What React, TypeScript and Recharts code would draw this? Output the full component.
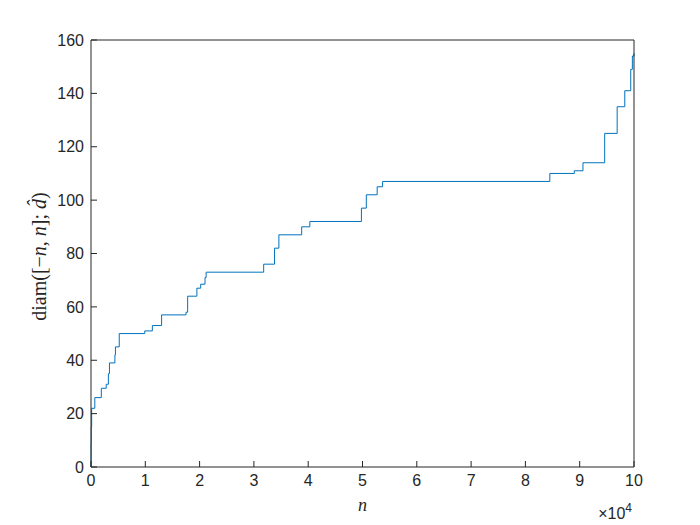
import React from "react";
import { LineChart, Line, XAxis, YAxis } from "recharts";

// step positions (n) and the diameter reached from that n on
const nValues = [
  0, 20, 50, 120, 700, 1900, 2800, 3200, 3400, 4400, 4500, 5200, 9900, 11300,
  13000, 17500, 17800, 19500, 20200, 21000, 21200, 31800, 33800, 34600, 38800,
  40300, 49800, 50700, 52700, 53700, 84500, 89000, 90600, 94600, 96900, 98300,
  99400, 99700, 100000,
];
const diamValues = [
  0, 9, 15, 22, 26, 29.5, 31, 35, 39, 42, 45, 50, 51, 53, 57, 58, 64, 67, 68.5,
  71, 73, 76, 82, 87, 90, 92, 97, 102, 105, 107, 110, 111, 114, 125, 135, 141,
  149, 154, 155,
];

const xTicks = [0, 10000, 20000, 30000, 40000, 50000, 60000, 70000, 80000, 90000, 100000];
const yTicks = [0, 20, 40, 60, 80, 100, 120, 140, 160];

const data = nValues.map((n, i) => ({ n, diam: diamValues[i] }));

const axisColor = "#262626";
const tickFont = { fill: axisColor, fontSize: 16, fontFamily: "Liberation Sans, Arial, sans-serif" };
const mathFont = "Liberation Serif, 'DejaVu Serif', serif";

const XLabel = (props: any) => {
  const { x, y, width } = props.viewBox;
  return (
    <g>
      <text x={x + width / 2} y={y + 44} textAnchor="middle" fontFamily={mathFont} fontStyle="italic" fontSize={18} fill={axisColor}>
        n
      </text>
      <text x={x + width - 2} y={y + 52} textAnchor="end" fontFamily="Liberation Sans, Arial, sans-serif" fontSize={16} fill={axisColor}>
        ×10<tspan dy={-7} fontSize={12}>4</tspan>
      </text>
    </g>
  );
};

const YLabel = (props: any) => {
  const { y, height } = props.viewBox;
  const cx = 46;
  const cy = y + height / 2 + 3;
  return (
    <text x={cx} y={cy} transform={`rotate(-90 ${cx} ${cy})`} textAnchor="middle" fontFamily={mathFont} fontSize={20} fill={axisColor}>
      diam([−<tspan fontStyle="italic">n</tspan>, <tspan fontStyle="italic">n</tspan>]; <tspan fontStyle="italic">d̂</tspan>)
    </text>
  );
};

export default function App() {
  return (
    <div style={{ position: "absolute", left: 0, top: 0, background: "#fff" }}>
      <LineChart width={700} height={525} data={data} margin={{ top: 39, right: 65, bottom: 0, left: 0 }}>
        <XAxis
          xAxisId="bottom"
          dataKey="n"
          type="number"
          domain={[0, 100000]}
          ticks={xTicks}
          tickFormatter={(v) => String(v / 10000)}
          height={58}
          stroke={axisColor}
          tickSize={-6}
          tickMargin={14}
          tick={tickFont}
          interval={0}
          label={<XLabel />}
        />
        <XAxis
          xAxisId="top"
          orientation="top"
          dataKey="n"
          type="number"
          domain={[0, 100000]}
          ticks={xTicks}
          height={1}
          stroke={axisColor}
          tickSize={-6}
          tick={false}
        />
        <YAxis
          yAxisId="left"
          type="number"
          domain={[0, 160]}
          ticks={yTicks}
          width={91}
          stroke={axisColor}
          tickSize={-6}
          tickMargin={13}
          tick={tickFont}
          interval={0}
          label={<YLabel />}
        />
        <YAxis
          yAxisId="right"
          orientation="right"
          type="number"
          domain={[0, 160]}
          ticks={yTicks}
          width={1}
          stroke={axisColor}
          tickSize={-6}
          tick={false}
        />
        <Line
          xAxisId="bottom"
          yAxisId="left"
          type="stepAfter"
          dataKey="diam"
          stroke="#0072BD"
          strokeWidth={1}
          dot={false}
          isAnimationActive={false}
        />
      </LineChart>
    </div>
  );
}
